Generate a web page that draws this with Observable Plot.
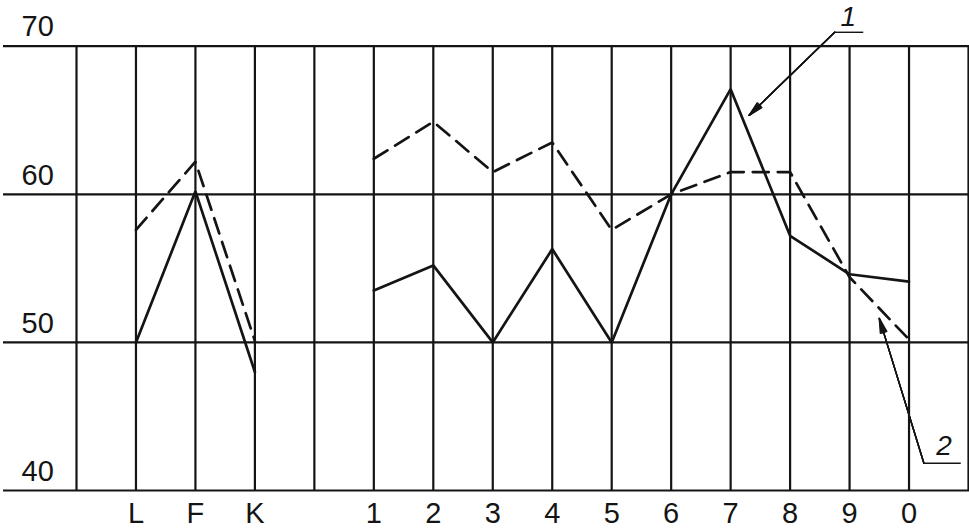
<!DOCTYPE html>
<html>
<head>
<meta charset="utf-8">
<script src="https://cdn.jsdelivr.net/npm/d3@7"></script>
<script src="https://cdn.jsdelivr.net/npm/@observablehq/plot@0.6"></script>
<style>
  html, body { margin: 0; padding: 0; background: #fff; }
</style>
</head>
<body>
<div id="chart"></div>
<script>
// Categories along the bottom (blank entries are empty grid columns)
const categories = ["", "L", "F", "K", "", "1", "2", "3", "4", "5", "6", "7", "8", "9", "0", ""];
// Curve 1 (solid) and curve 2 (dashed); null = no point
const series1 = [null, 50, 60.2, 48, null, 53.5, 55.2, 50, 56.3, 50, 60, 67.1, 57.2, 54.6, 54.1, null];
const series2 = [null, 57.6, 62.2, 50.1, null, 62.4, 64.9, 61.5, 63.5, 57.6, 60, 61.5, 61.5, 54.4, 50.2, null];
const yTicks = [40, 50, 60, 70];

// Leader annotations (in category-index / value units)
const annotLabels = ["1", "2"];
const annotLabelX = [12.98, 14.59];
const annotLabelY = [72.0, 43.0];
const annotTipX = [11.31, 13.50];
const annotTipY = [65.33, 51.62];
const annotTailX = [12.75, 14.25];
const annotTailY = [70.94, 41.84];
const annotShelfEndX = [13.23, 14.87];

const rows = categories.map((c, i) => ({i, c, s1: series1[i] ?? NaN, s2: series2[i] ?? NaN}));
const annots = annotLabels.map((t, k) => ({
  t, lx: annotLabelX[k], ly: annotLabelY[k],
  tipX: annotTipX[k], tipY: annotTipY[k],
  tailX: annotTailX[k], tailY: annotTailY[k],
  endX: annotShelfEndX[k]
}));

const ink = "#141414";
const headAngles = [26, 19, 12, 5];

const chart = Plot.plot({
  width: 969,
  height: 528,
  marginLeft: 76,
  marginRight: 1,
  marginTop: 45.7,
  marginBottom: 38,
  x: {type: "linear", domain: [0, categories.length - 1], label: null, axis: null},
  y: {domain: [40, 70], label: null, axis: null},
  style: {fontFamily: "'Liberation Sans', Arial, Helvetica, sans-serif", background: "#fff", color: ink},
  marks: [
    Plot.ruleX(rows, {x: "i", stroke: ink, strokeWidth: 2.2}),
    Plot.ruleY(yTicks, {stroke: ink, strokeWidth: 2.2, insetLeft: -73, insetRight: -1}),
    Plot.text(yTicks, {y: d => d, text: d => String(d), frameAnchor: "left", textAnchor: "start", dx: -55, dy: -19, fontSize: 29, fill: ink}),
    Plot.text(rows, {x: "i", text: "c", frameAnchor: "bottom", lineAnchor: "top", dy: 12, fontSize: 29, fill: ink}),
    Plot.line(rows, {x: "i", y: "s2", stroke: ink, strokeWidth: 2.7, strokeDasharray: "16,9", strokeLinejoin: "miter"}),
    Plot.line(rows, {x: "i", y: "s1", stroke: ink, strokeWidth: 2.7, strokeLinejoin: "miter"}),
    // leader shelves
    Plot.link(annots, {x1: "tailX", y1: "tailY", x2: "endX", y2: "tailY", stroke: ink, strokeWidth: 1.4}),
    // leader arrows (overlaid to fill the head)
    ...headAngles.map(a => Plot.arrow(annots, {
      x1: "tailX", y1: "tailY", x2: "tipX", y2: "tipY",
      stroke: ink, strokeWidth: 1.4, headLength: 16, headAngle: a
    })),
    Plot.text(annots, {x: "lx", y: "ly", text: "t", fontSize: 28, fontStyle: "italic", fill: ink})
  ]
});
document.getElementById("chart").appendChild(chart);
</script>
</body>
</html>
